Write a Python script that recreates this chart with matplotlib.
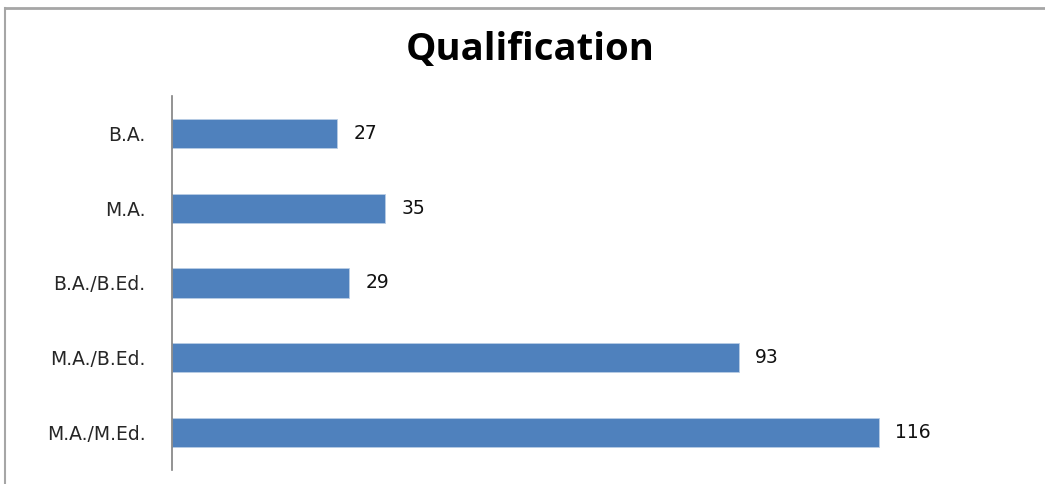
import matplotlib.pyplot as plt

# qualification counts, top to bottom
categories = ['B.A.', 'M.A.', 'B.A./B.Ed.', 'M.A./B.Ed.', 'M.A./M.Ed.']
counts = [27, 35, 29, 93, 116]

bar_color = '#4f81bd'
plt.rcParams['font.family'] = ['DejaVu Sans']

fig = plt.figure(figsize=(10.45, 4.84), dpi=100)
fig.patch.set_facecolor('white')

# outer chart frame (only top and left edges show)
fig.add_artist(plt.Line2D([4.5 / 1045, 1.0], [1 - 7.5 / 484] * 2,
                          transform=fig.transFigure, color='#a6a6a6', lw=2))
fig.add_artist(plt.Line2D([4.5 / 1045] * 2, [0.0, 1 - 7.5 / 484],
                          transform=fig.transFigure, color='#a6a6a6', lw=1.5))

ax = fig.add_axes([172 / 1045, 14 / 484, (1025 - 172) / 1045, (470 - 96) / 484])
ypos = list(range(len(categories)))
bars = ax.barh(ypos, counts, height=0.39, color=bar_color,
               edgecolor='#b9cde5', linewidth=0.6)
ax.set_ylim(len(categories) - 0.5, -0.5)
ax.set_xlim(0, 140)

ax.set_yticks(ypos)
ax.set_yticklabels(categories, fontsize=13.5, color='#262626')
ax.tick_params(axis='y', length=0, pad=19)
ax.set_xticks([])

for s in ['top', 'right', 'bottom']:
    ax.spines[s].set_visible(False)
ax.spines['left'].set_color('#808080')
ax.spines['left'].set_linewidth(1.2)

for b, v in zip(bars, counts):
    ax.annotate(str(v), (b.get_width(), b.get_y() + b.get_height() / 2),
                xytext=(12, 0), textcoords='offset points',
                va='center', ha='left', fontsize=13.5, color='#111111')

fig.text(530 / 1045, 1 - 50 / 484, 'Qualification', ha='center', va='center',
         fontsize=27.5, fontweight='bold', color='black', family='Open Sans')

fig.savefig('out.png', dpi=100, facecolor='white')
